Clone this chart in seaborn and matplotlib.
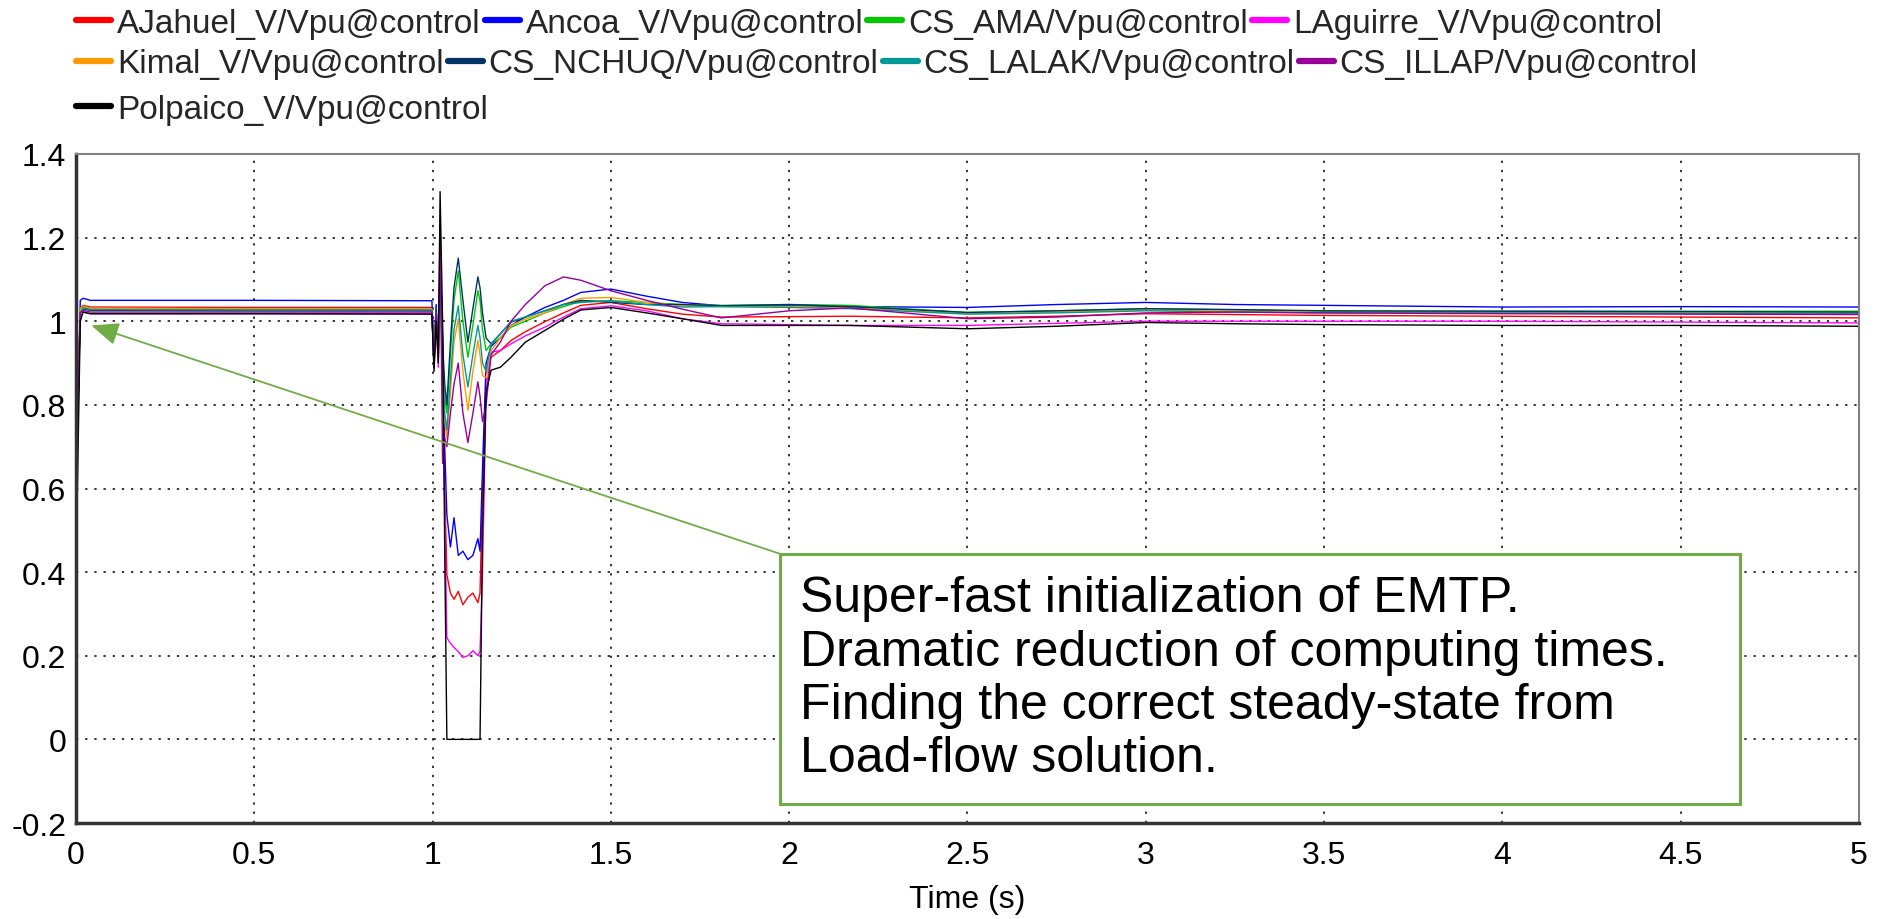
import numpy as np
import pandas as pd
import matplotlib
matplotlib.use("Agg")
import matplotlib.pyplot as plt
from matplotlib.lines import Line2D
from matplotlib.patches import Rectangle
import seaborn as sns

# ---------------- data ----------------
time_s = [0.000, 0.004, 0.012, 0.020, 0.040, 0.500, 0.998, 1.004, 1.010, 1.016,
          1.021, 1.028, 1.034, 1.040, 1.050, 1.060, 1.072, 1.085, 1.099, 1.113,
          1.127, 1.133, 1.140, 1.150, 1.164, 1.190, 1.220, 1.260, 1.315, 1.367,
          1.416, 1.500, 1.600, 1.700, 1.810, 2.000, 2.170, 2.500, 2.750, 3.000,
          3.250, 3.500, 4.000, 4.500, 5.000]

ajahuel = [0.45, 0.75, 1.03, 1.038, 1.034, 1.033, 1.033, 0.92, 1.02, 0.93,
           1.10, 0.95, 0.60, 0.394, 0.35, 0.335, 0.354, 0.322, 0.34, 0.35,
           0.327, 0.35, 0.60, 0.87, 0.914, 0.93, 0.954, 0.975, 0.999, 1.02,
           1.038, 1.045, 1.03, 1.017, 1.01, 1.011, 1.012, 1.008, 1.012, 1.018,
           1.016, 1.014, 1.012, 1.010, 1.008]

ancoa = [0.42, 0.72, 1.05, 1.055, 1.05, 1.05, 1.049, 0.93, 1.04, 0.92,
         1.15, 0.97, 0.70, 0.537, 0.46, 0.53, 0.44, 0.45, 0.43, 0.44,
         0.48, 0.45, 0.65, 0.90, 0.94, 0.96, 0.99, 1.01, 1.033, 1.05,
         1.069, 1.077, 1.06, 1.045, 1.037, 1.037, 1.035, 1.033, 1.040, 1.045,
         1.040, 1.038, 1.034, 1.035, 1.034]

cs_ama = [0.44, 0.74, 1.03, 1.034, 1.029, 1.028, 1.028, 0.90, 1.03, 0.92,
          1.12, 0.93, 0.82, 0.78, 0.92, 1.05, 1.12, 1.00, 0.914, 0.99,
          1.073, 1.05, 0.98, 0.93, 0.946, 0.96, 0.986, 1.0, 1.02, 1.035,
          1.048, 1.049, 1.045, 1.040, 1.038, 1.040, 1.038, 1.021, 1.025, 1.030,
          1.027, 1.024, 1.024, 1.024, 1.024]

laguirre = [0.52, 0.80, 1.01, 1.022, 1.018, 1.018, 1.018, 0.90, 1.01, 0.89,
            1.12, 0.90, 0.55, 0.243, 0.23, 0.22, 0.21, 0.196, 0.20, 0.212,
            0.20, 0.21, 0.40, 0.83, 0.926, 0.93, 0.946, 0.965, 0.986, 1.01,
            1.03, 1.037, 1.025, 1.006, 0.994, 0.992, 0.990, 0.990, 0.995, 1.000,
            1.000, 1.000, 1.000, 0.998, 0.996]

kimal = [0.47, 0.77, 1.03, 1.036, 1.031, 1.03, 1.03, 0.89, 1.03, 0.90,
         1.08, 0.88, 0.76, 0.72, 0.83, 0.95, 1.006, 0.88, 0.787, 0.88,
         0.954, 0.92, 0.87, 0.865, 0.93, 0.96, 0.99, 1.005, 1.02, 1.04,
         1.055, 1.057, 1.045, 1.037, 1.035, 1.035, 1.032, 1.018, 1.022, 1.027,
         1.024, 1.021, 1.021, 1.020, 1.020]

cs_nchuq = [0.40, 0.70, 1.02, 1.03, 1.026, 1.025, 1.025, 0.90, 1.03, 0.92,
            1.15, 0.95, 0.85, 0.80, 0.95, 1.08, 1.151, 1.05, 0.95, 1.03,
            1.106, 1.08, 1.02, 0.96, 0.946, 0.97, 0.998, 1.01, 1.025, 1.04,
            1.05, 1.045, 1.04, 1.04, 1.037, 1.040, 1.035, 1.021, 1.025, 1.030,
            1.028, 1.025, 1.024, 1.023, 1.022]

cs_lalak = [0.46, 0.76, 1.02, 1.032, 1.028, 1.027, 1.027, 0.89, 1.02, 0.91,
            1.10, 0.90, 0.78, 0.74, 0.86, 0.98, 1.037, 0.92, 0.843, 0.92,
            0.99, 0.96, 0.90, 0.88, 0.946, 0.97, 1.0, 1.01, 1.025, 1.04,
            1.045, 1.049, 1.04, 1.034, 1.035, 1.033, 1.030, 1.017, 1.020, 1.025,
            1.022, 1.020, 1.020, 1.019, 1.018]

cs_illap = [0.48, 0.78, 1.02, 1.026, 1.022, 1.022, 1.022, 0.89, 1.02, 0.95,
            1.216, 0.66, 0.72, 0.70, 0.78, 0.85, 0.90, 0.78, 0.71, 0.78,
            0.855, 0.82, 0.76, 0.80, 0.92, 0.95, 1.0, 1.04, 1.085, 1.106,
            1.098, 1.073, 1.05, 1.029, 1.008, 1.025, 1.032, 1.006, 1.010, 1.020,
            1.022, 1.020, 1.018, 1.017, 1.016]

polpaico = [0.36, 0.60, 1.00, 1.022, 1.018, 1.018, 1.017, 0.88, 1.00, 0.90,
            1.31, 1.00, 0.45, 0.0, 0.0, 0.0, 0.0, 0.0, 0.0, 0.0,
            0.0, 0.0, 0.50, 0.83, 0.883, 0.89, 0.914, 0.95, 0.978, 1.005,
            1.027, 1.033, 1.02, 1.006, 0.990, 0.990, 0.990, 0.982, 0.988, 0.997,
            0.994, 0.992, 0.990, 0.990, 0.988]

series_names = ["AJahuel_V/Vpu@control", "Ancoa_V/Vpu@control", "CS_AMA/Vpu@control",
                "LAguirre_V/Vpu@control", "Kimal_V/Vpu@control", "CS_NCHUQ/Vpu@control",
                "CS_LALAK/Vpu@control", "CS_ILLAP/Vpu@control", "Polpaico_V/Vpu@control"]
series_values = [ajahuel, ancoa, cs_ama, laguirre, kimal, cs_nchuq, cs_lalak, cs_illap, polpaico]
series_colors = ["#FF0000", "#0000FF", "#00C800", "#FF00FF", "#FF9900",
                 "#003366", "#009999", "#990099", "#000000"]
legend_rows = [[0, 1, 2, 3], [4, 5, 6, 7], [8]]

x_ticks = [0, 0.5, 1, 1.5, 2, 2.5, 3, 3.5, 4, 4.5, 5]
x_tick_labels = ["0", "0.5", "1", "1.5", "2", "2.5", "3", "3.5", "4", "4.5", "5"]
y_ticks = [-0.2, 0, 0.2, 0.4, 0.6, 0.8, 1.0, 1.2, 1.4]
y_tick_labels = ["-0.2", "0", "0.2", "0.4", "0.6", "0.8", "1", "1.2", "1.4"]
x_label = "Time (s)"

note_lines = ["Super-fast initialization of EMTP.",
              "Dramatic reduction of computing times.",
              "Finding the correct steady-state from",
              "Load-flow solution."]

# ---------------- style ----------------
sns.set_style("white")
plt.rcParams["font.family"] = ["Liberation Sans", "DejaVu Sans"]

W, H = 1883, 920
fig = plt.figure(figsize=(W / 100, H / 100), dpi=100)
ax = fig.add_axes([76 / W, 1 - 824 / H, (1859 - 76) / W, (824 - 155) / H])

frames = []
for name, vals in zip(series_names, series_values):
    frames.append(pd.DataFrame({"time": time_s, "value": vals, "series": name}))
long_df = pd.concat(frames, ignore_index=True)

sns.lineplot(data=long_df, x="time", y="value", hue="series",
             hue_order=series_names, palette=dict(zip(series_names, series_colors)),
             estimator=None, sort=False, linewidth=1.0, legend=False, ax=ax)

ax.set_xlim(0, 5)
ax.set_ylim(-0.2, 1.4)
ax.set_xticks(x_ticks)
ax.set_xticklabels(x_tick_labels)
ax.set_yticks(y_ticks)
ax.set_yticklabels(y_tick_labels)
ax.set_xlabel(x_label, fontsize=23, labelpad=10, color="black")
ax.set_ylabel("")
ax.tick_params(axis="both", direction="out", length=4, width=1, colors="black",
               labelsize=23)
ax.tick_params(axis="x", pad=8)
ax.tick_params(axis="y", pad=3)
ax.set_axisbelow(True)
ax.grid(True, color="black", linestyle=(0, (1.5, 4.5)), linewidth=1.1)

for side in ["left", "bottom"]:
    ax.spines[side].set_color("#333333")
    ax.spines[side].set_linewidth(2.5)
for side in ["top", "right"]:
    ax.spines[side].set_color("#808080")
    ax.spines[side].set_linewidth(1.5)

# annotation box and arrow
box_x0, box_x1, box_y0, box_y1 = 1.975, 4.666, -0.155, 0.4436
ax.add_patch(Rectangle((box_x0, box_y0), box_x1 - box_x0, box_y1 - box_y0,
                       facecolor="white", edgecolor="#70AD47", linewidth=2.2, zorder=5))
ax.text(2.03, 0.392, "\n".join(note_lines), fontsize=36, va="top", ha="left",
        linespacing=1.2, color="black", zorder=6)
ax.annotate("", xy=(0.043, 0.99), xytext=(box_x0, box_y1),
            arrowprops=dict(arrowstyle="-|>,head_length=0.6,head_width=0.25",
                            color="#70AD47", lw=1.3, mutation_scale=28,
                            shrinkA=0, shrinkB=0), zorder=6)

# legend rows (packed entries, like the reference)
row_y = [24, 65, 110]
for r, idxs in enumerate(legend_rows):
    handles = [Line2D([], [], color=series_colors[i], lw=4.5) for i in idxs]
    fig.legend(handles, [series_names[i] for i in idxs], loc="center left",
               bbox_to_anchor=(76 / W, 1 - row_y[r] / H), ncol=len(idxs),
               frameon=False, fontsize=24, handlelength=1.05, handletextpad=0.18,
               columnspacing=0.12, borderpad=0, borderaxespad=0)

fig.savefig("out.png", dpi=100)
